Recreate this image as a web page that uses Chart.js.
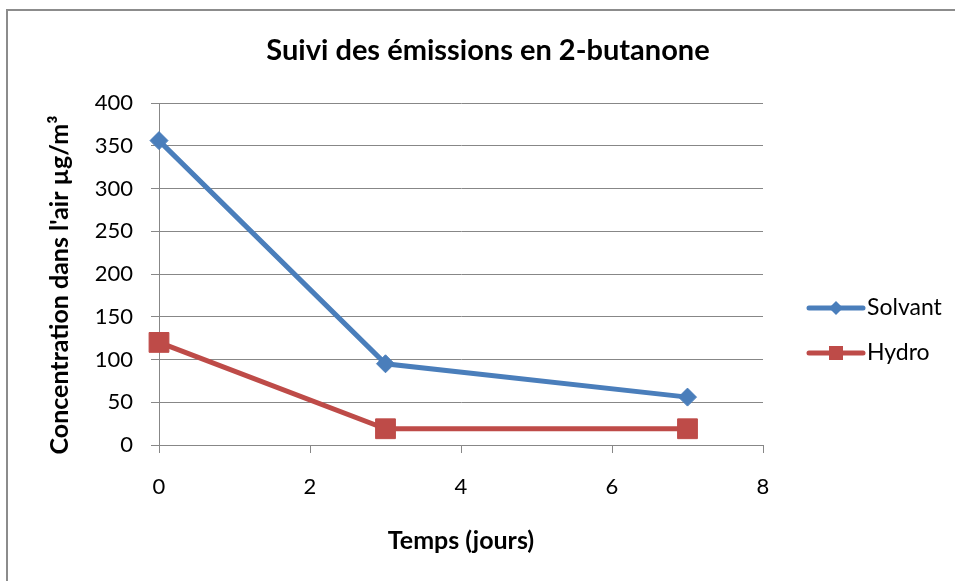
<!DOCTYPE html>
<html>
<head>
<meta charset="utf-8">
<script src="https://cdn.jsdelivr.net/npm/chart.js@4.4.1/dist/chart.umd.min.js"></script>
<style>
  html, body { margin: 0; padding: 0; background: #fff; }
  #wrap { position: relative; width: 955px; height: 581px; }
</style>
</head>
<body>
<div id="wrap"><canvas id="c" width="955" height="581"></canvas></div>
<script>
// data
const chartTitle = 'Suivi des émissions en 2-butanone';
const xTitle = 'Temps (jours)';
const yTitle = "Concentration dans l'air µg/m³";
const seriesNames = ['Solvant', 'Hydro'];
const days = [0, 3, 7];
const solvant = [356, 95, 56];
const hydro = [120, 19, 19];
const xTicks = [0, 2, 4, 6, 8];
const yTicks = [0, 50, 100, 150, 200, 250, 300, 350, 400];

const FONT = 'Lato, "Open Sans", sans-serif';
const GRID = '#878787';
const colors = ['#4a7ebb', '#be4b48'];
const shapes = ['rectRot', 'rect'];

const toPoints = vals => days.map((d, i) => ({ x: d, y: vals[i] }));

// frame, titles and legend drawn around the plot
const decor = {
    id: 'decor',
    beforeDraw(chart) {
        const ctx = chart.ctx;
        ctx.save();
        ctx.strokeStyle = '#8c8c8c';
        ctx.lineWidth = 2;
        ctx.beginPath();
        ctx.moveTo(7, 581);
        ctx.lineTo(7, 10);
        ctx.lineTo(955, 10);
        ctx.stroke();
        ctx.restore();
    },
    afterDraw(chart) {
        const ctx = chart.ctx;
        ctx.save();
        ctx.fillStyle = '#000';
        ctx.font = 'bold 29px ' + FONT;
        ctx.textAlign = 'center';
        ctx.textBaseline = 'middle';
        ctx.fillText(chartTitle, 488, 51);

        // y axis title, Excel puts it a bit below the plot centre
        ctx.save();
        ctx.translate(60, 285);
        ctx.rotate(-Math.PI / 2);
        ctx.font = 'bold 25px ' + FONT;
        ctx.fillText(yTitle, 0, 0);
        ctx.restore();

        // legend
        const rows = [308, 353];
        chart.data.datasets.forEach((ds, i) => {
            const y = rows[i];
            ctx.strokeStyle = ds.borderColor;
            ctx.lineWidth = 5;
            ctx.lineCap = 'round';
            ctx.beginPath();
            ctx.moveTo(809, y);
            ctx.lineTo(863, y);
            ctx.stroke();
            ctx.fillStyle = ds.borderColor;
            ctx.beginPath();
            if (i === 0) {
                ctx.moveTo(836, y - 7);
                ctx.lineTo(843, y);
                ctx.lineTo(836, y + 7);
                ctx.lineTo(829, y);
                ctx.closePath();
            } else {
                ctx.rect(829, y - 7, 14, 14);
            }
            ctx.fill();
            ctx.fillStyle = '#000';
            ctx.font = '23px ' + FONT;
            ctx.textAlign = 'left';
            ctx.fillText(ds.label, 867, y);
        });
        ctx.restore();
    }
};

new Chart(document.getElementById('c'), {
    type: 'line',
    data: {
        datasets: [
            {
                label: seriesNames[0],
                data: toPoints(solvant),
                borderColor: colors[0],
                backgroundColor: colors[0],
                borderWidth: 5,
                pointStyle: shapes[0],
                pointRadius: 9,
                pointBorderWidth: 1,
                clip: false
            },
            {
                label: seriesNames[1],
                data: toPoints(hydro),
                borderColor: colors[1],
                backgroundColor: colors[1],
                borderWidth: 5,
                pointStyle: shapes[1],
                pointRadius: 14,
                pointBorderWidth: 1,
                clip: false
            }
        ]
    },
    options: {
        responsive: false,
        animation: false,
        layout: { padding: { top: 103, right: 192, bottom: 0, left: 0 } },
        plugins: {
            legend: { display: false },
            title: { display: false },
            tooltip: { enabled: false }
        },
        elements: { line: { tension: 0 } },
        scales: {
            x: {
                type: 'linear',
                min: xTicks[0],
                max: xTicks[xTicks.length - 1],
                afterFit: s => { s.height = 136; },
                afterBuildTicks: s => { s.ticks = xTicks.map(v => ({ value: v })); },
                ticks: { color: '#000', font: { family: FONT, size: 22 }, padding: 21 },
                grid: { drawOnChartArea: false, drawTicks: true, tickLength: 8, color: GRID },
                border: { color: GRID, width: 1 },
                title: {
                    display: true, text: xTitle, color: '#000',
                    font: { family: FONT, size: 25, weight: 'bold' },
                    padding: { top: 0, bottom: 25 }
                }
            },
            y: {
                min: yTicks[0],
                max: yTicks[yTicks.length - 1],
                afterFit: s => { s.width = 159; },
                afterBuildTicks: s => { s.ticks = yTicks.map(v => ({ value: v })); },
                ticks: { color: '#000', font: { family: FONT, size: 22 }, padding: 18 },
                grid: { color: GRID, tickLength: 8 },
                border: { color: GRID, width: 1 }
            }
        }
    },
    plugins: [decor]
});
</script>
</body>
</html>
